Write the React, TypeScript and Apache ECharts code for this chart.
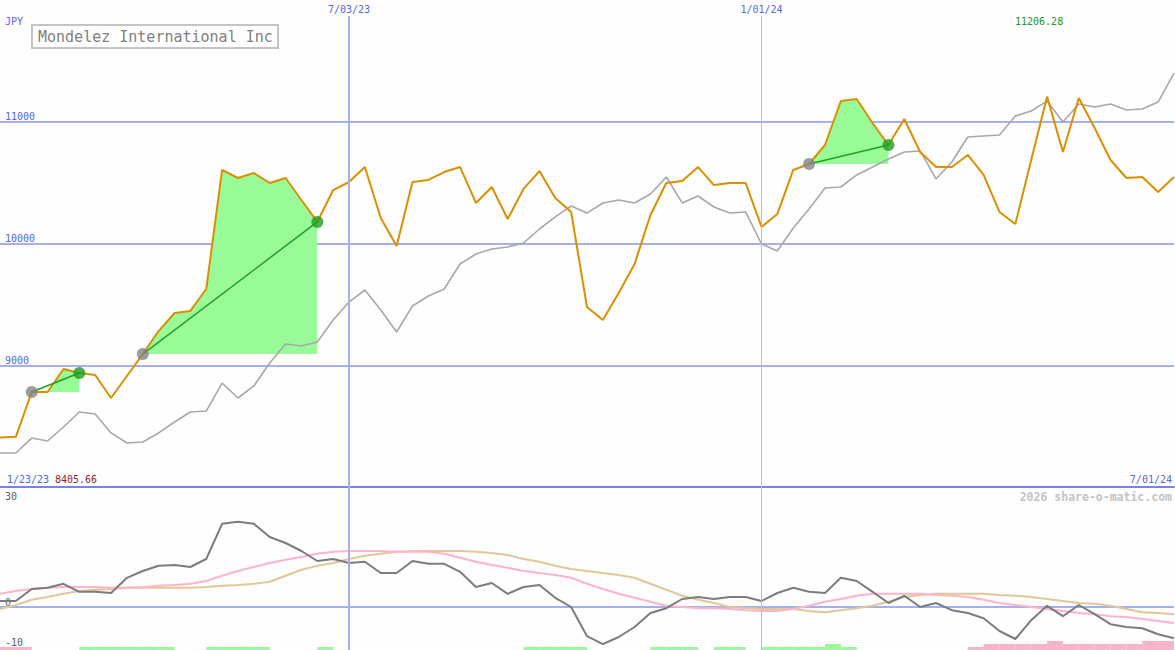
import React, { useEffect, useRef } from "react";
import * as echarts from "echarts";

// ---- data ----
const title = "Mondelez International Inc";
const currency = "JPY";
const dateMarks = ["7/03/23", "1/01/24"];
const dateMarkIdx = [22, 48];
const rangeStart = "1/23/23";
const rangeEnd = "7/01/24";
const lowPrice = "8405.66";
const highPrice = "11206.28";
const credit = "2026 share-o-matic.com";

const price = [
  8405.66, 8412, 8780, 8780, 8969, 8936, 8920, 8731, 8912, 9092,
  9281, 9429, 9446, 9626, 10604, 10538, 10579, 10497, 10538, 10357,
  10177, 10439, 10505, 10628, 10209, 9979, 10505, 10522, 10587, 10628,
  10333, 10464, 10201, 10448, 10595, 10374, 10259, 9478, 9372, 9593,
  9832, 10234, 10497, 10513, 10628, 10480, 10497, 10497, 10136, 10242,
  10604, 10653, 10809, 11170, 11187, 10990, 10809, 11023, 10752, 10628,
  10628, 10727, 10563, 10259, 10160, 10686, 11206.28, 10752, 11195, 10949,
  10686, 10538, 10546, 10423, 10546,
];

const average = [
  8279, 8279, 8402, 8378, 8493, 8616, 8600, 8444, 8361, 8370,
  8444, 8534, 8616, 8624, 8854, 8731, 8830, 9018, 9174, 9158,
  9191, 9372, 9519, 9618, 9454, 9273, 9487, 9569, 9626, 9832,
  9914, 9955, 9971, 10004, 10119, 10218, 10308, 10250, 10333, 10357,
  10333, 10407, 10546, 10333, 10390, 10300, 10250, 10259, 9996, 9938,
  10127, 10283, 10456, 10464, 10563, 10628, 10694, 10752, 10760, 10530,
  10669, 10875, 10883, 10891, 11047, 11088, 11170, 10998, 11146, 11121,
  11146, 11097, 11105, 11162, 11400,
];

const oscillator = [
  1.5, 1.5, 4.5, 4.8, 5.8, 3.8, 3.8, 3.5, 7.3, 9.0,
  10.3, 10.5, 10.0, 12.0, 20.8, 21.3, 20.8, 17.5, 16.0, 14.0,
  11.5, 12.0, 11.0, 11.3, 8.5, 8.5, 11.5, 10.8, 10.8, 8.8,
  5.0, 6.0, 3.3, 5.0, 5.5, 2.3, 0, -7.3, -9.3, -7.5,
  -5.0, -1.5, -0.3, 2.0, 2.5, 2.0, 2.5, 2.5, 1.5, 3.5,
  4.8, 3.8, 3.5, 7.3, 6.5, 3.8, 1.0, 2.8, 0, 1.0,
  -0.8, -1.5, -2.8, -6.0, -8.0, -3.3, 0.3, -2.3, 0.5, -1.8,
  -4.3, -5.0, -5.3, -6.8, -7.8,
];

const signalFast = [
  3.3, 4.0, 4.5, 4.8, 5.0, 5.0, 5.0, 4.8, 4.8, 5.0, 5.3, 5.5, 5.8,
  6.5, 7.8, 9.0, 10.0, 11.0, 11.8, 12.5, 13.3, 13.8, 14.0, 14.0, 14.0,
  13.8, 13.8, 13.8, 13.3, 12.3, 11.3, 10.5, 9.8, 9.0, 8.5, 8.0, 7.3, 5.8,
  4.5, 3.3, 2.3, 1.3, 0.3, 0, -0.3, -0.3, -0.5, -0.8, -1.0, -1.0, -0.5,
  0.3, 1.3, 2.0, 2.8, 3.3, 3.3, 3.3, 3.3, 3.0, 2.8, 2.5, 1.8, 1.0, 0.5,
  0, -0.5, -1.0, -1.5, -1.8, -2.3, -2.5, -3.0, -3.5, -4.0,
];

const signalSlow = [
  -0.5, 0.5, 1.8, 2.5, 3.3, 4.0, 4.3, 4.5, 4.8, 4.8, 4.8, 4.8, 4.8,
  5.0, 5.3, 5.5, 5.8, 6.3, 7.8, 9.3, 10.3, 11.0, 12.0, 12.8, 13.3,
  13.8, 14.0, 14.0, 14.0, 14.0, 13.8, 13.5, 13.0, 12.0, 11.3, 10.3, 9.5, 9.0,
  8.5, 8.0, 7.3, 5.8, 4.3, 2.8, 1.8, 1.0, 0, -0.3, -0.5, -0.5, -0.5,
  -1.0, -1.3, -0.8, -0.3, 0.3, 1.3, 2.5, 3.0, 3.3, 3.3, 3.3, 3.3, 3.0, 2.8,
  2.5, 2.0, 1.5, 1.0, 0.8, 0.3, -0.5, -1.3, -1.5, -1.8,
];

const histogram = [
  -1, -1, 0, 0, 0, 1, 1, 1, 1, 1,
  1, 0, 0, 1, 1, 1, 1, 0, 0, 0,
  1, 0, 0, 0, 0, 0, 0, 0, 0, 0,
  0, 0, 0, 1, 1, 1, 1, 0, 0, 0,
  0, 1, 1, 1, 0, 1, 1, 0, 1, 1,
  1, 1, 2, 1, 0, 0, 0, 0, 0, 0,
  0, -1, -2, -2, -2, -2, -3, -2, -2, -2,
  -2, -2, -3, -3, 0,
];

const trendRuns = [
  [2, 5],
  [9, 20],
  [51, 56],
];

// ---- styling ----
const MONO = "'DejaVu Sans Mono', 'Liberation Mono', monospace";
const BLUE = "#5566ee";
const GRIDC = "#a4b0f0";
const CLEAR = "rgba(0,0,0,0)";
const W = 1175;
const H = 650;
const PLOT_W = 1174;
const MAIN_H = 487;
const Y_MIN = 8000;
const Y_MAX = 12000;

export default function App() {
  const ref = useRef<HTMLDivElement>(null);

  useEffect(() => {
    if (!ref.current) return;
    const chart = echarts.init(ref.current, undefined, { renderer: "svg" });
    const xMax = price.length - 1;
    const topVal = Y_MAX - (16 / MAIN_H) * (Y_MAX - Y_MIN);
    const barW = PLOT_W / xMax;

    const series: any[] = [];

    // green gain areas between the run's starting price and the price line
    series.push({
      type: "custom",
      xAxisIndex: 0,
      yAxisIndex: 0,
      silent: true,
      z: 1,
      data: trendRuns.map(([s, e]) => [s, price[s], e]),
      renderItem: (params: any, api: any) => {
        const [s, e] = trendRuns[params.dataIndex];
        const base = price[s];
        const pts: number[][] = [api.coord([s, base])];
        for (let k = s; k <= e; k++) pts.push(api.coord([k, Math.max(price[k], base)]));
        pts.push(api.coord([e, base]));
        return {
          type: "polygon",
          shape: { points: pts },
          style: { fill: "#98fb98" },
        };
      },
    });

    series.push({
      type: "line",
      xAxisIndex: 0,
      yAxisIndex: 0,
      data: average.map((v, i) => [i, v]),
      symbol: "none",
      lineStyle: { color: "#a8a8a8", width: 1.6 },
      z: 2,
    });

    series.push({
      type: "line",
      xAxisIndex: 0,
      yAxisIndex: 0,
      data: price.map((v, i) => [i, v]),
      symbol: "none",
      lineStyle: { color: "#dc9000", width: 2 },
      z: 3,
      markLine: {
        silent: true,
        symbol: ["none", "none"],
        animation: false,
        label: {
          show: true,
          position: "start",
          formatter: "{b}",
          color: BLUE,
          fontSize: 10,
          fontFamily: MONO,
          distance: 2,
        },
        data: dateMarkIdx.map((k, i) => [
          {
            name: dateMarks[i],
            coord: [k, topVal],
            lineStyle: {
              color: i === 0 ? GRIDC : "#b4bce8",
              width: i === 0 ? 2 : 1,
              type: "solid",
            },
          },
          { coord: [k, Y_MIN] },
        ]),
      },
    });

    trendRuns.forEach(([s, e]) => {
      series.push({
        type: "line",
        xAxisIndex: 0,
        yAxisIndex: 0,
        data: [
          [s, price[s]],
          [e, price[e]],
        ],
        symbol: "none",
        lineStyle: { color: "#22a022", width: 1.5 },
        z: 4,
      });
    });

    series.push({
      type: "scatter",
      xAxisIndex: 0,
      yAxisIndex: 0,
      data: trendRuns.map(([s]) => [s, price[s]]),
      symbolSize: 12,
      itemStyle: { color: "#858585" },
      z: 5,
    });
    series.push({
      type: "scatter",
      xAxisIndex: 0,
      yAxisIndex: 0,
      data: trendRuns.map(([, e]) => [e, price[e]]),
      symbolSize: 12,
      itemStyle: { color: "#1f9c1f" },
      z: 5,
    });

    // lower panel
    series.push({
      type: "line",
      xAxisIndex: 1,
      yAxisIndex: 1,
      data: signalSlow.map((v, i) => [i, v]),
      symbol: "none",
      lineStyle: { color: "#e2c898", width: 2 },
      z: 2,
    });
    series.push({
      type: "line",
      xAxisIndex: 1,
      yAxisIndex: 1,
      data: signalFast.map((v, i) => [i, v]),
      symbol: "none",
      lineStyle: { color: "#ffb4c8", width: 2 },
      z: 2,
    });
    series.push({
      type: "line",
      xAxisIndex: 1,
      yAxisIndex: 1,
      data: oscillator.map((v, i) => [i, v]),
      symbol: "none",
      lineStyle: { color: "#7c7c7c", width: 2 },
      z: 3,
    });

    const posBars: number[][] = [];
    const negBars: number[][] = [];
    histogram.forEach((h, i) => {
      if (h > 0) posBars.push([i + 0.5, h]);
      if (h < 0) negBars.push([i + 0.5, -h]);
    });
    series.push({
      type: "bar",
      xAxisIndex: 2,
      yAxisIndex: 2,
      data: posBars,
      barWidth: barW,
      barGap: "-100%",
      itemStyle: { color: "#98fb98" },
      z: 1,
      markLine: {
        silent: true,
        symbol: ["none", "none"],
        animation: false,
        label: { show: false },
        data: dateMarkIdx.map((k, i) => ({
          xAxis: k,
          lineStyle: {
            color: i === 0 ? GRIDC : "#b4bce8",
            width: i === 0 ? 2 : 1,
            type: "solid",
          },
        })),
      },
    });
    series.push({
      type: "bar",
      xAxisIndex: 2,
      yAxisIndex: 2,
      data: negBars,
      barWidth: barW,
      barGap: "-100%",
      itemStyle: { color: "#f9b4c8" },
      z: 1,
    });

    const hiddenX = (gi: number) => ({
      type: "value",
      gridIndex: gi,
      min: 0,
      max: xMax,
      show: false,
    });

    const option: any = {
      animation: false,
      backgroundColor: "#fdfefd",
      grid: [
        { left: 0, top: 0, width: PLOT_W, height: MAIN_H },
        { left: 0, top: MAIN_H, width: PLOT_W, height: 160 },
        { left: 0, top: MAIN_H, width: PLOT_W, height: H - MAIN_H },
      ],
      xAxis: [
        {
          type: "value",
          gridIndex: 0,
          min: 0,
          max: xMax,
          axisLine: { show: true, onZero: false, lineStyle: { color: "#7684e8", width: 2 } },
          axisTick: { show: false },
          axisLabel: { show: false },
          splitLine: { show: false },
        },
        hiddenX(1),
        hiddenX(2),
      ],
      yAxis: [
        {
          type: "value",
          gridIndex: 0,
          min: Y_MIN,
          max: Y_MAX,
          interval: 1000,
          axisLine: { show: false },
          axisTick: { show: false },
          axisLabel: {
            inside: true,
            margin: 5,
            verticalAlign: "bottom",
            color: BLUE,
            fontSize: 10,
            fontFamily: MONO,
            showMinLabel: false,
            showMaxLabel: false,
            formatter: (v: number) => String(v),
          },
          splitLine: {
            show: true,
            lineStyle: { color: [CLEAR, GRIDC, GRIDC, GRIDC, CLEAR], width: 2 },
          },
        },
        {
          type: "value",
          gridIndex: 1,
          min: -10,
          max: 30,
          interval: 10,
          axisLine: { show: false },
          axisTick: { show: false },
          axisLabel: {
            inside: true,
            margin: 5,
            verticalAlign: "bottom",
            color: "#606060",
            fontSize: 10,
            fontFamily: MONO,
            formatter: (v: number) => (v === 0 || v === -10 ? String(v) : ""),
          },
          splitLine: {
            show: true,
            lineStyle: { color: [CLEAR, GRIDC, CLEAR, CLEAR, CLEAR], width: 2 },
          },
        },
        {
          type: "value",
          gridIndex: 2,
          min: 0,
          max: 54,
          show: false,
          splitLine: { show: false },
        },
      ],
      series,
      graphic: [
        {
          type: "text",
          x: 5,
          y: 16,
          style: { text: currency, fill: BLUE, font: `10px ${MONO}` },
        },
        {
          type: "rect",
          shape: { x: 32, y: 25, width: 246, height: 23 },
          style: { fill: "#ffffff", stroke: "#c4c4c4", lineWidth: 2 },
          z: 10,
        },
        {
          type: "text",
          x: 38,
          y: 37,
          z: 11,
          style: {
            text: title,
            fill: "#808080",
            font: `15px ${MONO}`,
            verticalAlign: "middle",
          },
        },
        {
          type: "text",
          x: 1015,
          y: 16,
          style: { text: highPrice, fill: "#229922", font: `10px ${MONO}` },
        },
        {
          type: "text",
          x: 7,
          y: 474,
          style: { text: rangeStart, fill: BLUE, font: `10px ${MONO}` },
        },
        {
          type: "text",
          x: 55,
          y: 474,
          style: { text: lowPrice, fill: "#a01c1c", font: `10px ${MONO}` },
        },
        {
          type: "text",
          x: 1172,
          y: 474,
          style: { text: rangeEnd, fill: BLUE, font: `10px ${MONO}`, align: "right" },
        },
        {
          type: "text",
          x: 1172,
          y: 491,
          style: {
            text: credit,
            fill: "#c4c4c4",
            font: `bold 11.5px ${MONO}`,
            align: "right",
          },
        },
        {
          type: "text",
          x: 5,
          y: 491,
          style: { text: "30", fill: "#606060", font: `10px ${MONO}` },
        },
      ],
    };

    chart.setOption(option);
    return () => chart.dispose();
  }, []);

  return (
    <div
      ref={ref}
      style={{ position: "fixed", left: 0, top: 0, width: W, height: H }}
    />
  );
}
